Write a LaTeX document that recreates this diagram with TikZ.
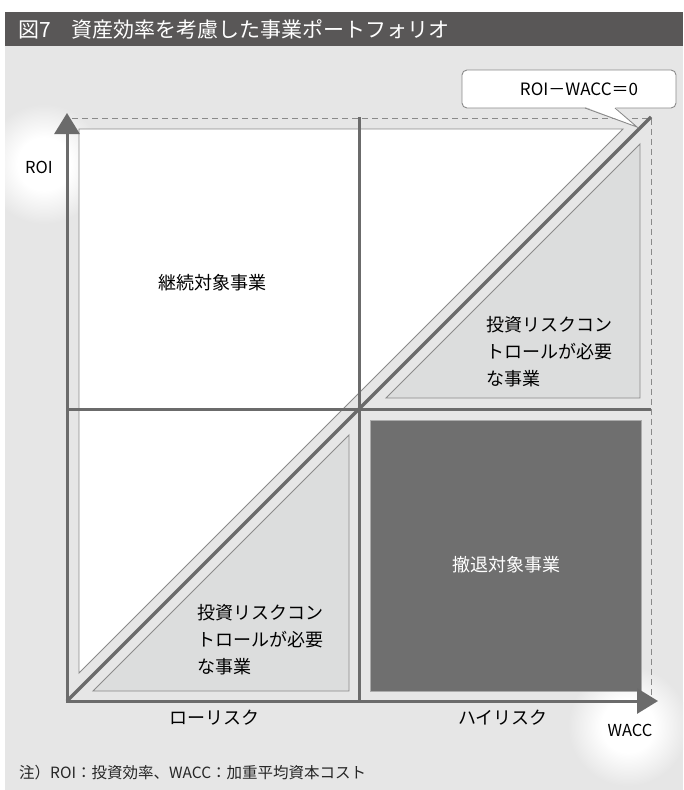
\documentclass[tikz,border=0pt]{standalone}
\usepackage{fontspec}
\setmainfont{Noto Sans CJK JP}
\usetikzlibrary{arrows.meta}
\definecolor{bgc}{HTML}{E6E6E6}
\definecolor{barc}{HTML}{595757}
\definecolor{axisc}{HTML}{6B6B6B}
\definecolor{thinc}{HTML}{8A8A8A}
\definecolor{trif}{HTML}{DCDDDD}
\definecolor{darkf}{HTML}{6F6F6F}
\definecolor{darkb}{HTML}{ABABAB}
\pgfdeclareradialshading{glow}{\pgfpoint{0bp}{0bp}}{color(0bp)=(white); color(11bp)=(white); color(25bp)=(bgc); color(50bp)=(bgc)}
\begin{document}
\begin{tikzpicture}[x=1pt,y=-1pt,
  thickline/.style={draw=axisc, line width=3pt},
  thinborder/.style={draw=thinc, line width=0.9pt},
  dashline/.style={draw=thinc, line width=0.9pt, dash pattern=on 6pt off 4pt},
  axisarrow/.style={thickline, -{Triangle[length=21pt,width=25pt]}},
  lbl/.style={inner sep=0pt, font=\fontsize{18}{27}\selectfont, text=black},
  axlbl/.style={inner sep=0pt, font=\fontsize{16.5}{20}\selectfont, text=black}]
\useasboundingbox (0,0) rectangle (683,790);
\fill[white] (0,0) rectangle (683,790);
% title bar
\fill[barc] (5,12) rectangle (683,46);
\node[anchor=west, inner sep=0pt, text=white, font=\fontsize{21}{24}\selectfont] (title) at (18,29.5) {図7　資産効率を考慮した事業ポートフォリオ};
% background
\fill[bgc] (5,46) rectangle (683,790);
% glows
\begin{scope}
\clip (5,46) rectangle (683,790);
\shade[shading=glow] (44,164) circle (60);
\shade[shading=glow] (628,726) circle (60);
\end{scope}
% white upper-left region
\filldraw[fill=white, thinborder] (79,129) -- (623,129) -- (79,673) -- cycle;
% grey triangles
\filldraw[fill=trif, thinborder] (640,144) -- (640,398) -- (386,398) -- cycle;
\filldraw[fill=trif, thinborder] (349,435) -- (349,691) -- (93,691) -- cycle;
% dark square
\filldraw[fill=darkf, draw=darkb, line width=0.9pt] (370,420) rectangle (641,691);
% dashed frame
\draw[dashline] (72,118) -- (651,118) -- (651,699);
% mid lines
\coordinate (O) at (67,701);
\coordinate (C) at (359,409);
\coordinate (TR) at (651,117);
\draw[thickline] (359,117) -- (359,701);
\draw[thickline] (67,409) -- (651,409);
% diagonal
\draw[thickline, line width=3.4pt] (O) -- (TR);
% axes
\draw[axisarrow] (67,702.5) -- (67,113);
\draw[axisarrow] (65.5,701) -- (658,701);
% callout
\node[draw=thinc, fill=white, rounded corners=5pt, minimum width=214pt, minimum height=38pt, line width=0.9pt, inner sep=0pt] (callout) at (569,89) {};
\coordinate (tip) at (637,127);
\fill[white] (585,106.8) -- (tip) -- (615,106.8) -- cycle;
\draw[thinborder] (585,108) -- (tip) -- (615,108);
\node[axlbl, font=\fontsize{17}{20}\selectfont] (calloutText) at (579,89) {ROI－WACC＝0};
% labels
\node[axlbl] (roi) at (39,167) {ROI};
\node[axlbl] (wacc) at (630,730) {WACC};
\node[lbl] (low) at (214,718) {ローリスク};
\node[lbl] (high) at (503,718) {ハイリスク};
\node[lbl] (keizoku) at (212,283) {継続対象事業};
\node[lbl, align=left, anchor=west] (ctrlA) at (486,352) {投資リスクコン\\トロールが必要\\な事業};
\node[lbl, align=left, anchor=west] (ctrlB) at (197,640) {投資リスクコン\\トロールが必要\\な事業};
\node[lbl, text=white] (tettai) at (506,565) {撤退対象事業};
\node[anchor=west, inner sep=0pt, font=\fontsize{15.5}{18}\selectfont, text=black!85] (note) at (19,773) {注）ROI：投資効率、WACC：加重平均資本コスト};
\end{tikzpicture}
\end{document}
